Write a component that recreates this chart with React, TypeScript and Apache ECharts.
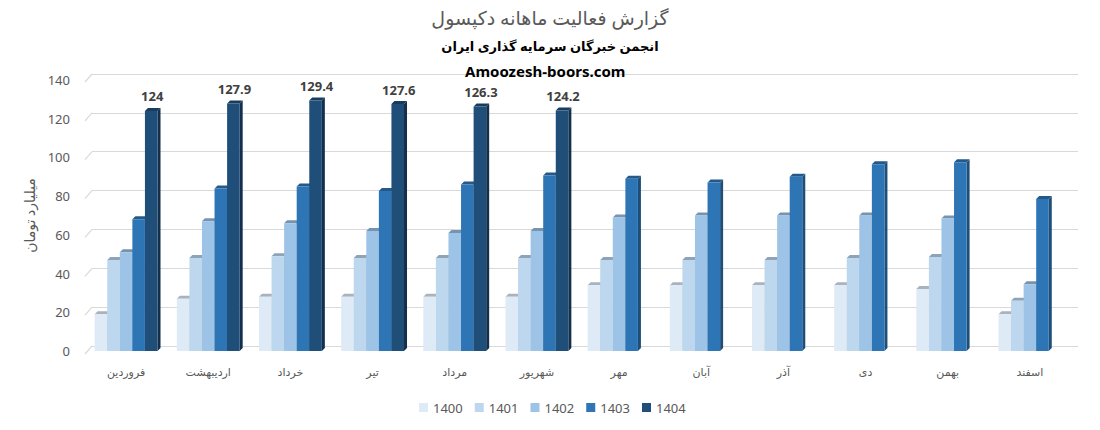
import React, { useEffect, useRef } from "react";
import * as echarts from "echarts";

const months = ["فروردین", "اردیبهشت", "خرداد", "تیر", "مرداد", "شهریور", "مهر", "آبان", "آذر", "دی", "بهمن", "اسفند"];
const years = ["1400", "1401", "1402", "1403", "1404"];
const y1400 = [19, 27, 28, 28, 28, 28, 34, 34, 34, 34, 32, 19];
const y1401 = [47, 48, 49, 48, 48, 48, 47, 47, 47, 48, 48.5, 26];
const y1402 = [51, 67, 66, 62, 61, 62, 69, 70, 70, 70, 68.5, 34.5];
const y1403 = [68, 84, 85, 82.6, 86, 90.6, 89, 87, 90, 96.5, 97.5, 78.5];
const y1404 = [124, 127.9, 129.4, 127.6, 126.3, 124.2, null, null, null, null, null, null];
const yTicks = [0, 20, 40, 60, 80, 100, 120, 140];

const frontColors = ["#DEEBF7", "#BDD7EE", "#9DC3E6", "#2E75B6", "#1F4E79"];
const sideColors = ["#B7C3CE", "#9CB1C4", "#7E9DBA", "#1F4E79", "#142F4B"];
const topColors = ["#A9B3BD", "#8EA3B6", "#7694AF", "#24598A", "#183C5E"];

const seriesData = [y1400, y1401, y1402, y1403, y1404];

export default function App() {
  const ref = useRef<HTMLDivElement>(null);
  useEffect(() => {
    if (!ref.current) return;
    const chart = echarts.init(ref.current, undefined, { renderer: "svg" });
    const labelFont = "'Noto Sans', 'DejaVu Sans', sans-serif";

    const barSeries = years.map((yr, si) => ({
      type: "custom",
      name: yr,
      xAxisIndex: 0,
      yAxisIndex: 0,
      itemStyle: { color: frontColors[si] },
      encode: { x: 0, y: 1 },
      data: seriesData[si]
        .map((v, i) => (v == null ? null : [i, v]))
        .filter((d) => d !== null),
      renderItem: (params: any, api: any) => {
        const cat = api.value(0);
        const v = api.value(1);
        const base = api.coord([cat, 0]);
        const top = api.coord([cat, v]);
        const band = api.size([1, 0])[0];
        const bw = band * 0.153;
        const x0 = base[0] - 2.5 * bw + si * bw;
        const x1 = x0 + bw;
        const d = 3;
        const children: any[] = [
          {
            type: "polygon",
            shape: { points: [[x1, top[1]], [x1 + d, top[1] - d], [x1 + d, base[1] - d], [x1, base[1]]] },
            style: { fill: sideColors[si] },
          },
          {
            type: "polygon",
            shape: { points: [[x0, top[1]], [x0 + d, top[1] - d], [x1 + d, top[1] - d], [x1, top[1]]] },
            style: { fill: topColors[si] },
          },
          {
            type: "rect",
            shape: { x: x0, y: top[1], width: bw, height: base[1] - top[1] },
            style: { fill: frontColors[si] },
          },
        ];
        if (si === 4) {
          children.push({
            type: "text",
            x: x0 + bw / 2 + 1,
            y: top[1] - 8,
            style: {
              text: String(v),
              fill: "#404040",
              font: "bold 13px " + labelFont,
              align: "center",
              verticalAlign: "bottom",
            },
          });
        }
        return { type: "group", children };
      },
    }));

    const tickSeries = {
      type: "custom",
      name: "ticks",
      xAxisIndex: 1,
      yAxisIndex: 1,
      silent: true,
      encode: { x: 0, y: 1 },
      data: yTicks.map((t) => [0, t]),
      renderItem: (params: any, api: any) => {
        const p = api.coord([0, api.value(1)]);
        const x = params.coordSys.x;
        return {
          type: "line",
          shape: { x1: x - 7, y1: p[1] + 8, x2: x, y2: p[1] },
          style: { stroke: "#d9d9d9", lineWidth: 1.2 },
        };
      },
    };

    chart.setOption({
      animation: false,
      backgroundColor: "#ffffff",
      title: [
        {
          text: "گزارش فعالیت ماهانه دکپسول",
          left: "center",
          top: 3,
          textStyle: { fontSize: 19, fontWeight: "normal", color: "#595959", fontFamily: labelFont },
        },
        {
          text: "انجمن خبرگان سرمایه گذاری ایران",
          left: "center",
          top: 34,
          textStyle: { fontSize: 13, fontWeight: "bold", color: "#000000", fontFamily: labelFont },
        },
        {
          text: "Amoozesh-boors.com",
          left: 460,
          top: 58,
          textStyle: { fontSize: 15, fontWeight: "bold", color: "#000000", fontFamily: labelFont },
        },
      ],
      legend: {
        bottom: 11,
        left: 414,
        icon: "rect",
        itemWidth: 9,
        itemHeight: 9,
        itemGap: 12,
        textStyle: { fontSize: 13, color: "#595959", fontFamily: labelFont },
        data: years.map((y, i) => ({ name: y, itemStyle: { color: frontColors[i] } })),
      },
      grid: [
        { left: 85, right: 29, top: 80, bottom: 79, containLabel: false },
        { left: 92, right: 22, top: 74, bottom: 84, containLabel: false },
      ],
      xAxis: [
        {
          type: "category",
          gridIndex: 0,
          data: months,
          axisLine: { show: false },
          axisTick: { show: false },
          axisLabel: { color: "#595959", fontSize: 11, margin: 15, fontFamily: labelFont },
        },
        {
          type: "category",
          gridIndex: 1,
          data: months,
          show: false,
        },
      ],
      yAxis: [
        {
          type: "value",
          gridIndex: 0,
          min: 0,
          max: 140,
          interval: 20,
          splitLine: { show: false },
          axisLine: { show: false },
          axisTick: { show: false },
          axisLabel: { color: "#595959", fontSize: 13, margin: 15, padding: [6, 0, 0, 0], fontFamily: labelFont },
          name: "میلیارد تومان",
          nameLocation: "middle",
          nameGap: 47,
          nameRotate: 90,
          nameTextStyle: { color: "#595959", fontSize: 14, fontFamily: labelFont },
        },
        {
          type: "value",
          gridIndex: 1,
          min: 0,
          max: 140,
          interval: 20,
          axisLabel: { show: false },
          axisLine: { show: false },
          axisTick: { show: false },
          splitLine: { show: true, lineStyle: { color: "#d9d9d9", width: 1.2 } },
        },
      ],
      series: [tickSeries, ...barSeries],
    });
    return () => chart.dispose();
  }, []);
  return (
    <div
      ref={ref}
      style={{ position: "fixed", left: 0, top: 0, width: 1100, height: 430, background: "#fff" }}
    />
  );
}
